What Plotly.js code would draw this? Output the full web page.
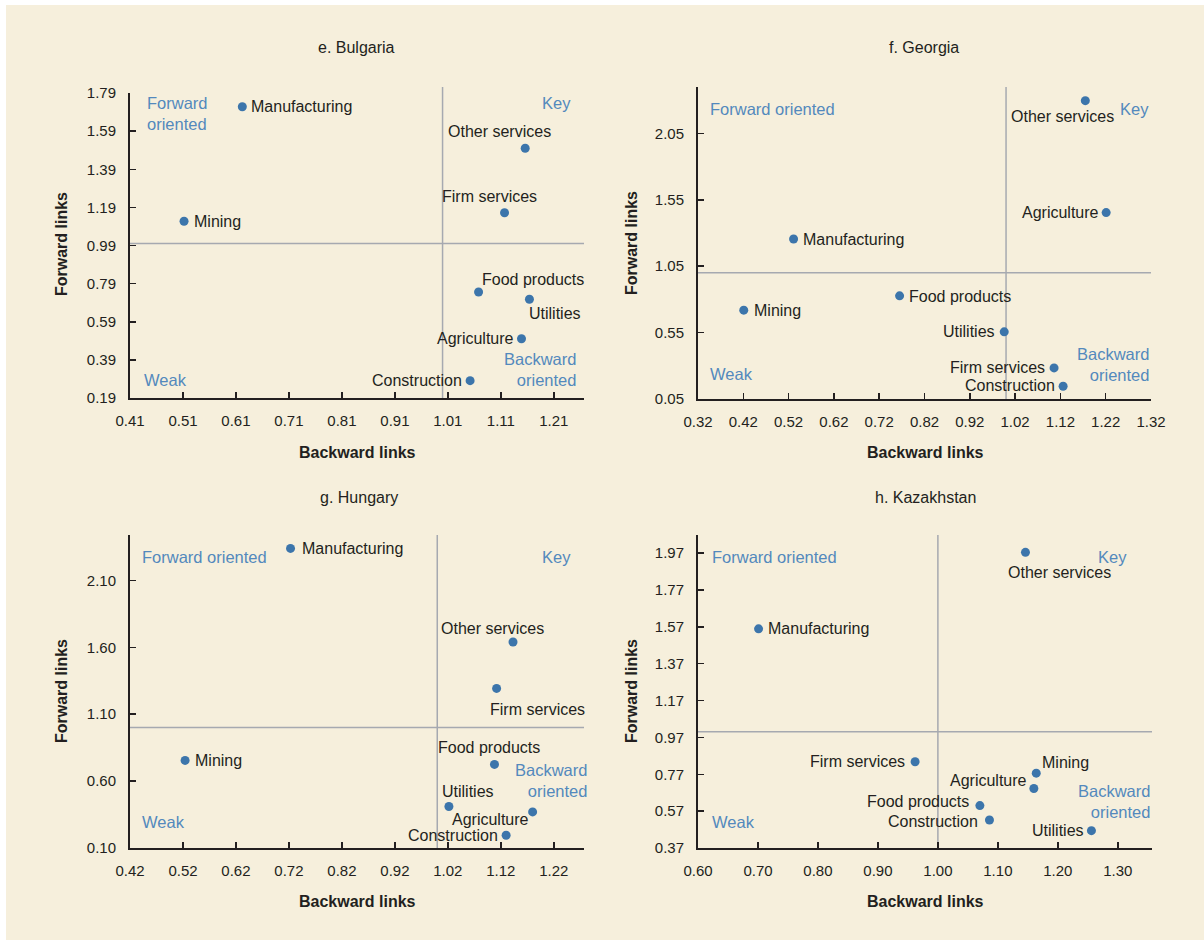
<!DOCTYPE html>
<html>
<head>
<meta charset="utf-8">
<script src="https://cdn.plot.ly/plotly-3.0.1.min.js"></script>
<style>
  html, body { margin: 0; padding: 0; background: #ffffff; }
  #chart { width: 1204px; height: 940px; }
</style>
</head>
<body>
<div id="chart"></div>
<script>
// ---------------- DATA ----------------
const threshold = 1.0;

// e. Bulgaria
const bgSectors  = ['Manufacturing', 'Mining', 'Other services', 'Firm services', 'Food products', 'Utilities', 'Agriculture', 'Construction'];
const bgBackward = [0.622, 0.512, 1.156, 1.117, 1.068, 1.164, 1.149, 1.052];
const bgForward  = [1.718, 1.117, 1.500, 1.162, 0.746, 0.708, 0.501, 0.281];
const bgXTicks = [0.41, 0.51, 0.61, 0.71, 0.81, 0.91, 1.01, 1.11, 1.21];
const bgYTicks = [0.19, 0.39, 0.59, 0.79, 0.99, 1.19, 1.39, 1.59, 1.79];

// f. Georgia
const geSectors  = ['Other services', 'Agriculture', 'Manufacturing', 'Food products', 'Mining', 'Utilities', 'Firm services', 'Construction'];
const geBackward = [1.175, 1.221, 0.531, 0.765, 0.421, 0.996, 1.106, 1.126];
const geForward  = [2.297, 1.454, 1.255, 0.827, 0.719, 0.556, 0.284, 0.146];
const geXTicks = [0.32, 0.42, 0.52, 0.62, 0.72, 0.82, 0.92, 1.02, 1.12, 1.22, 1.32];
const geYTicks = [0.05, 0.55, 1.05, 1.55, 2.05];

// g. Hungary
const huSectors  = ['Manufacturing', 'Other services', 'Firm services', 'Mining', 'Food products', 'Utilities', 'Agriculture', 'Construction'];
const huBackward = [0.723, 1.143, 1.112, 0.524, 1.108, 1.022, 1.180, 1.130];
const huForward  = [2.340, 1.640, 1.293, 0.755, 0.725, 0.410, 0.370, 0.195];
const huXTicks = [0.42, 0.52, 0.62, 0.72, 0.82, 0.92, 1.02, 1.12, 1.22];
const huYTicks = [0.10, 0.60, 1.10, 1.60, 2.10];

// h. Kazakhstan
const kzSectors  = ['Other services', 'Manufacturing', 'Firm services', 'Mining', 'Agriculture', 'Food products', 'Construction', 'Utilities'];
const kzBackward = [1.146, 0.701, 0.962, 1.164, 1.160, 1.070, 1.086, 1.256];
const kzForward  = [1.974, 1.559, 0.838, 0.776, 0.693, 0.600, 0.522, 0.464];
const kzXTicks = [0.60, 0.70, 0.80, 0.90, 1.00, 1.10, 1.20, 1.30];
const kzYTicks = [0.37, 0.57, 0.77, 0.97, 1.17, 1.37, 1.57, 1.77, 1.97];

const panelTitles = ['e. Bulgaria', 'f. Georgia', 'g. Hungary', 'h. Kazakhstan'];
const xTitle = 'Backward links';
const yTitle = 'Forward links';
const quadrantText = { fwd: 'Forward oriented', key: 'Key', weak: 'Weak', bwd: 'Backward oriented' };

// ---------------- STYLE / LAYOUT ----------------
const W = 1204, H = 940;
const CREAM = '#f6efdc';
const DARK = '#231f20';
const DOT = '#3c75ab';
const BLUE = '#5389bd';
const GRAYLINE = '#a6a9b0';
const FONT = '"Liberation Sans", Arial, sans-serif';
const BOLDFONT = '"Liberation Sans", Arial, sans-serif';
const LABEL_SIZE = 16, TICK_SIZE = 15, QUAD_SIZE = 16.5, TITLE_SIZE = 16;

// label placement per point: [xanchor, xshift, yshift]
const bgLabelPos = [['left',7,0],['left',8,0],['center',-26,17],['center',-15,16],['left',1,13],['left',-2,-14],['right',-5,0],['right',-6,0]];
const geLabelPos = [['center',-23,-16],['right',-5,0],['left',7,0],['left',7,-1],['left',8,0],['right',-7,0],['right',-7,0],['right',-6,1]];
const huLabelPos = [['left',9,0],['center',-21,14],['left',-9,-21],['left',8,0],['center',-5,17],['left',-9,15],['right',-2,-8],['right',-6,0]];
const kzLabelPos = [['center',34,-20],['left',7,0],['right',-8,0],['left',4,11],['right',-5,8],['right',-9,4],['right',-9,-2],['right',-5,0]];

// panel geometry in pixels: [left, right, top, bottom]
const panels = [
  { id: '',  box: [130, 584, 93, 398], xr: [0.41, 1.267], yr: [0.19, 1.79],
    sectors: bgSectors, bx: bgBackward, fy: bgForward, xt: bgXTicks, yt: bgYTicks, pos: bgLabelPos,
    title: [356, 48], xtitle: [357, 453], ytitle: [61, 244], vtop: 1.02,
    q: { fwd: [0.033, 0.934, 'Forward<br>oriented'], key: [0.976, 0.967], weak: [0.026, 0.059], bwd: [0.987, 0.092] } },
  { id: '2', box: [698, 1151, 87, 399], xr: [0.32, 1.32], yr: [0.05, 2.40],
    sectors: geSectors, bx: geBackward, fy: geForward, xt: geXTicks, yt: geYTicks, pos: geLabelPos,
    title: [924, 48], xtitle: [925, 453], ytitle: [631, 243], vtop: 1.0,
    q: { fwd: [0.022, 0.929, 'Forward oriented'], key: [1.0, 0.929], weak: [0.022, 0.08], bwd: [1.0, 0.109] } },
  { id: '3', box: [130, 584, 535, 848], xr: [0.42, 1.277], yr: [0.10, 2.44],
    sectors: huSectors, bx: huBackward, fy: huForward, xt: huXTicks, yt: huYTicks, pos: huLabelPos,
    title: [359, 497], xtitle: [357, 901], ytitle: [61, 691], vtop: 1.0,
    q: { fwd: [0.022, 0.93, 'Forward oriented'], key: [0.976, 0.93], weak: [0.022, 0.083], bwd: [1.01, 0.217] } },
  { id: '4', box: [698, 1152, 535, 848], xr: [0.60, 1.357], yr: [0.37, 2.068],
    sectors: kzSectors, bx: kzBackward, fy: kzForward, xt: kzXTicks, yt: kzYTicks, pos: kzLabelPos,
    title: [925, 497], xtitle: [925, 901], ytitle: [631, 691], vtop: 1.0,
    q: { fwd: [0.026, 0.93, 'Forward oriented'], key: [0.95, 0.93], weak: [0.026, 0.083], bwd: [1.0, 0.15] } }
];

const px = v => v / W;
const py = v => 1 - v / H;

const data = [];
const annotations = [];
const shapes = [
  { type: 'rect', xref: 'paper', yref: 'paper', x0: 0, x1: px(6), y0: 0, y1: 1, fillcolor: '#ffffff', line: { width: 0 }, layer: 'below' },
  { type: 'rect', xref: 'paper', yref: 'paper', x0: 0, x1: 1, y0: py(5), y1: 1, fillcolor: '#ffffff', line: { width: 0 }, layer: 'below' }
];

const layout = {
  width: W, height: H,
  margin: { l: 0, r: 0, t: 0, b: 0 },
  paper_bgcolor: CREAM,
  plot_bgcolor: 'rgba(0,0,0,0)',
  showlegend: false,
  font: { family: FONT, size: LABEL_SIZE, color: DARK },
  annotations: annotations,
  shapes: shapes
};

panels.forEach((p, i) => {
  const xa = 'x' + p.id, ya = 'y' + p.id;
  const xKey = 'xaxis' + p.id, yKey = 'yaxis' + p.id;
  const [l, r, t, b] = p.box;

  data.push({
    type: 'scatter', mode: 'markers',
    x: p.bx, y: p.fy, xaxis: xa, yaxis: ya,
    marker: { color: DOT, size: 9 },
    hoverinfo: 'skip', cliponaxis: false
  });

  const axCommon = {
    showgrid: false, zeroline: false, showline: true,
    linecolor: DARK, linewidth: 2,
    ticks: 'inside', ticklen: 6, tickwidth: 1.5, tickcolor: DARK,
    tickformat: '.2f', tickmode: 'array',
    tickfont: { family: FONT, size: TICK_SIZE, color: DARK },
    fixedrange: true
  };
  layout[xKey] = Object.assign({}, axCommon, {
    domain: [px(l), px(r)], range: p.xr, tickvals: p.xt, anchor: ya,
    ticklabelstandoff: 8
  });
  layout[yKey] = Object.assign({}, axCommon, {
    domain: [py(b), py(t)], range: p.yr, tickvals: p.yt, anchor: xa,
    ticklabelstandoff: 9
  });

  // reference lines at 1.0
  shapes.push({ type: 'line', xref: xa, yref: ya + ' domain', x0: threshold, x1: threshold, y0: 0, y1: p.vtop,
                line: { color: GRAYLINE, width: 1.5 }, layer: 'below' });
  shapes.push({ type: 'line', xref: xa + ' domain', yref: ya, x0: 0, x1: 1, y0: threshold, y1: threshold,
                line: { color: GRAYLINE, width: 1.5 }, layer: 'below' });

  // point labels
  p.sectors.forEach((s, k) => {
    const [anc, xs, ys] = p.pos[k];
    annotations.push({
      xref: xa, yref: ya, x: p.bx[k], y: p.fy[k], text: s, showarrow: false,
      xanchor: anc, yanchor: 'middle', xshift: xs, yshift: ys,
      font: { family: FONT, size: LABEL_SIZE, color: DARK }
    });
  });

  // quadrant labels
  const qf = { family: FONT, size: QUAD_SIZE, color: BLUE };
  annotations.push({ xref: xa + ' domain', yref: ya + ' domain', x: p.q.fwd[0], y: p.q.fwd[1], text: p.q.fwd[2],
    showarrow: false, xanchor: 'left', yanchor: 'middle', align: 'left', font: qf });
  annotations.push({ xref: xa + ' domain', yref: ya + ' domain', x: p.q.key[0], y: p.q.key[1], text: quadrantText.key,
    showarrow: false, xanchor: 'right', yanchor: 'middle', font: qf });
  annotations.push({ xref: xa + ' domain', yref: ya + ' domain', x: p.q.weak[0], y: p.q.weak[1], text: quadrantText.weak,
    showarrow: false, xanchor: 'left', yanchor: 'middle', font: qf });
  annotations.push({ xref: xa + ' domain', yref: ya + ' domain', x: p.q.bwd[0], y: p.q.bwd[1], text: 'Backward<br>oriented',
    showarrow: false, xanchor: 'right', yanchor: 'middle', align: 'right', font: qf });

  // panel title & axis titles
  annotations.push({ xref: 'paper', yref: 'paper', x: px(p.title[0]), y: py(p.title[1]), text: panelTitles[i],
    showarrow: false, xanchor: 'center', yanchor: 'middle', font: { family: FONT, size: TITLE_SIZE, color: DARK } });
  annotations.push({ xref: 'paper', yref: 'paper', x: px(p.xtitle[0]), y: py(p.xtitle[1]), text: '<b>' + xTitle + '</b>',
    showarrow: false, xanchor: 'center', yanchor: 'middle', font: { family: BOLDFONT, size: 16, color: DARK } });
  annotations.push({ xref: 'paper', yref: 'paper', x: px(p.ytitle[0]), y: py(p.ytitle[1]), text: '<b>' + yTitle + '</b>',
    showarrow: false, xanchor: 'center', yanchor: 'middle', textangle: -90, font: { family: BOLDFONT, size: 16, color: DARK } });
});

Plotly.newPlot('chart', data, layout, { displayModeBar: false, staticPlot: true });
</script>
</body>
</html>
